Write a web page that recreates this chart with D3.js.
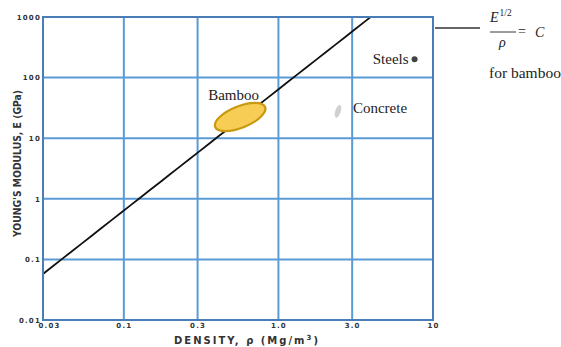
<!DOCTYPE html>
<html>
<head>
<meta charset="utf-8">
<script src="https://cdn.jsdelivr.net/npm/d3@7/dist/d3.min.js"></script>
<style>
  html, body { margin: 0; padding: 0; background: #fff; }
  svg { display: block; }
</style>
</head>
<body>
<div id="chart"></div>
<script>
// Material property chart: Young's modulus vs density (log-log)
const densityTicks = [0.03, 0.1, 0.3, 1.0, 3.0, 10];
const densityTickLabels = ["0.03", "0.1", "0.3", "1.0", "3.0", "10"];
const modulusTicks = [0.01, 0.1, 1, 10, 100, 1000];
const modulusTickLabels = ["0.01", "0.1", "1", "10", "100", "1000"];

// Guide line E^(1/2)/rho = C, i.e. E = C^2 * rho^2
const guideC = 8;

// Material envelopes: major-axis endpoints [density, modulus] and minor/major ratio
const materialNames = ["Bamboo", "Concrete"];
const materialAxisStart = [[0.39, 15.3], [2.36, 22]];
const materialAxisEnd = [[0.82, 32.7], [2.5, 35]];
const materialWidthRatio = [0.4, 0.38];

// Point materials
const pointNames = ["Steels"];
const pointDensity = [7.6];
const pointModulus = [200];

const W = 561, H = 347;
const margin = { left: 43, right: W - 433, top: 17, bottom: H - 320 };

const svg = d3.select("#chart").append("svg")
  .attr("width", W).attr("height", H);

const x = d3.scaleLog().domain([0.03, 10]).range([margin.left, W - margin.right]);
const y = d3.scaleLog().domain([0.01, 1000]).range([H - margin.bottom, margin.top]);

const gridColor = "#5b9bd5";
const frameColor = "#4a7cb5";

// Grid lines
svg.append("g").selectAll("line")
  .data(densityTicks.slice(1, -1)).join("line")
  .attr("x1", d => x(d)).attr("x2", d => x(d))
  .attr("y1", y(1000)).attr("y2", y(0.01))
  .attr("stroke", gridColor).attr("stroke-width", 2);
svg.append("g").selectAll("line")
  .data(modulusTicks.slice(1, -1)).join("line")
  .attr("x1", x(0.03)).attr("x2", x(10))
  .attr("y1", d => y(d)).attr("y2", d => y(d))
  .attr("stroke", gridColor).attr("stroke-width", 2);

// Axes (labels only, frame drawn separately)
const tickFont = "bold 7px 'DejaVu Sans', sans-serif";
const xAxis = d3.axisBottom(x).tickValues(densityTicks)
  .tickFormat((d, i) => densityTickLabels[i]).tickSize(0).tickPadding(3);
const gx = svg.append("g").attr("transform", `translate(0,${y(0.01)})`).call(xAxis);
gx.select(".domain").remove();
gx.selectAll("text").style("font", tickFont).style("letter-spacing", "1.2px").attr("fill", "#333");
gx.selectAll(".tick").filter(d => d === 0.03).select("text").attr("dx", 6);

const yAxis = d3.axisLeft(y).tickValues(modulusTicks)
  .tickFormat((d, i) => modulusTickLabels[i]).tickSize(0).tickPadding(2);
const gy = svg.append("g").attr("transform", `translate(${x(0.03)},0)`).call(yAxis);
gy.select(".domain").remove();
gy.selectAll("text").style("font", tickFont).style("letter-spacing", "1.2px").attr("fill", "#333");

// Clip region for the plot
svg.append("clipPath").attr("id", "plotClip").append("rect")
  .attr("x", x(0.03)).attr("y", y(1000))
  .attr("width", x(10) - x(0.03)).attr("height", y(0.01) - y(1000));

// Guide line
const guideRho = d3.range(0, 41).map(i => 0.03 * Math.pow(10 / 0.03, i / 40));
const line = d3.line().x(d => x(d)).y(d => y(guideC * guideC * d * d));
svg.append("path").datum(guideRho)
  .attr("clip-path", "url(#plotClip)")
  .attr("d", line).attr("fill", "none")
  .attr("stroke", "#111").attr("stroke-width", 1.8);

// Material envelopes
const envStyles = [
  { fill: "#f8cd55", stroke: "#c99a10", sw: 2.2 },
  { fill: "#cfcfcf", stroke: "#cfcfcf", sw: 0.5 }
];
materialNames.forEach((name, i) => {
  const [r1, e1] = materialAxisStart[i];
  const [r2, e2] = materialAxisEnd[i];
  const x1 = x(r1), y1 = y(e1), x2 = x(r2), y2 = y(e2);
  const cx = (x1 + x2) / 2, cy = (y1 + y2) / 2;
  const rx = Math.hypot(x2 - x1, y2 - y1) / 2;
  const ry = rx * materialWidthRatio[i];
  const ang = Math.atan2(y2 - y1, x2 - x1) * 180 / Math.PI;
  svg.append("ellipse")
    .attr("transform", `translate(${cx},${cy}) rotate(${ang})`)
    .attr("rx", rx).attr("ry", ry)
    .attr("fill", envStyles[i].fill)
    .attr("stroke", envStyles[i].stroke)
    .attr("stroke-width", envStyles[i].sw);
});

// Frame
svg.append("rect")
  .attr("x", x(0.03)).attr("y", y(1000))
  .attr("width", x(10) - x(0.03)).attr("height", y(0.01) - y(1000))
  .attr("fill", "none").attr("stroke", frameColor).attr("stroke-width", 2);

// Point materials
pointNames.forEach((name, i) => {
  svg.append("circle")
    .attr("cx", x(pointDensity[i])).attr("cy", y(pointModulus[i]))
    .attr("r", 3).attr("fill", "#444");
});

// Material labels
const serif = "'Liberation Serif', 'Times New Roman', serif";
svg.append("text").attr("x", x(materialAxisStart[0][0]) - 7).attr("y", y(materialAxisEnd[0][1]) - 7)
  .style("font-family", serif).style("font-size", "15px").attr("fill", "#222")
  .text(materialNames[0]);
svg.append("text").attr("x", x(materialAxisEnd[1][0]) + 13).attr("y", y(28) + 2)
  .style("font-family", serif).style("font-size", "15px").attr("fill", "#222")
  .text(materialNames[1]);
svg.append("text").attr("x", x(pointDensity[0]) - 6).attr("y", y(pointModulus[0]) + 5)
  .attr("text-anchor", "end")
  .style("font-family", serif).style("font-size", "15px").attr("fill", "#222")
  .text(pointNames[0]);

// Axis titles
const titleFont = "'DejaVu Sans', sans-serif";
svg.append("text")
  .attr("transform", `translate(21,${(y(1000) + y(0.01)) / 2 - 5}) rotate(-90)`)
  .attr("text-anchor", "middle")
  .attr("textLength", 147).attr("lengthAdjust", "spacingAndGlyphs")
  .style("font-family", titleFont).style("font-size", "10px").style("font-weight", "bold")
  .attr("fill", "#333")
  .text("YOUNG'S MODULUS, E (GPa)");

const xt = svg.append("text")
  .attr("x", 247).attr("y", 344)
  .attr("text-anchor", "middle")
  .style("font-family", titleFont).style("font-size", "10px").style("font-weight", "bold")
  .style("letter-spacing", "2px")
  .attr("fill", "#333");
xt.append("tspan").text("DENSITY,  \u03c1  (Mg/m");
xt.append("tspan").attr("dy", -4).style("font-size", "7px").text("3");
xt.append("tspan").attr("dy", 4).text(")");

// Guide line annotation
svg.append("line")
  .attr("x1", x(10) + 2).attr("x2", 480)
  .attr("y1", 28).attr("y2", 28)
  .attr("stroke", "#333").attr("stroke-width", 1.6);

const eq = svg.append("g").style("font-family", serif).attr("fill", "#222");
const num = eq.append("text").attr("x", 490).attr("y", 22)
  .style("font-size", "14px").style("font-style", "italic");
num.append("tspan").text("E");
num.append("tspan").attr("dy", -6).attr("dx", 1).style("font-size", "9.5px").style("font-style", "normal").text("1/2");
eq.append("line").attr("x1", 490).attr("x2", 516).attr("y1", 32).attr("y2", 32)
  .attr("stroke", "#222").attr("stroke-width", 0.9);
eq.append("text").attr("x", 499).attr("y", 47)
  .style("font-size", "14px").style("font-style", "italic").text("\u03c1");
eq.append("text").attr("x", 518).attr("y", 36)
  .style("font-size", "14px").text("=");
eq.append("text").attr("x", 535).attr("y", 37)
  .style("font-size", "14px").style("font-style", "italic").text("C");
eq.append("text").attr("x", 489).attr("y", 78)
  .style("font-size", "15.5px").text("for bamboo");
</script>
</body>
</html>
